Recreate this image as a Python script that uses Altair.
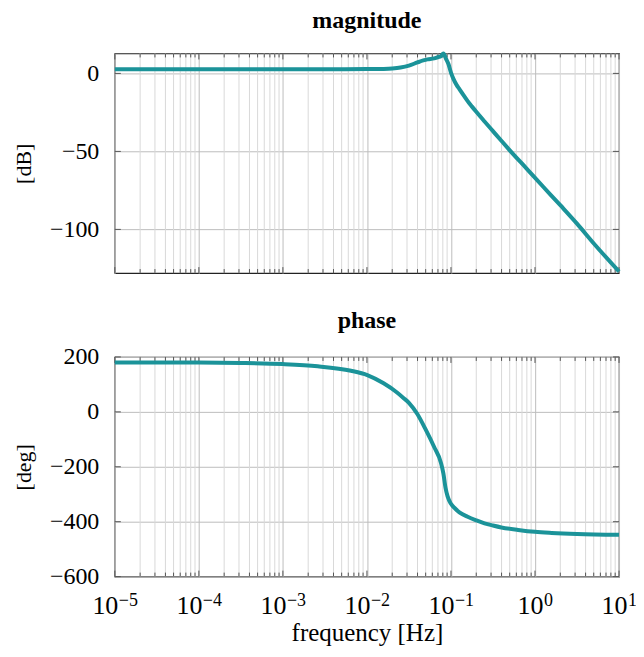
import altair as alt
import pandas as pd

# ---- data ----
mag_freq = [1e-5, 1e-4, 1e-3, 3.16e-3, 0.01, 0.0126, 0.0158, 0.0200, 0.0251, 0.0316,
            0.0398, 0.0468, 0.0525, 0.0631, 0.0708, 0.0759, 0.0813, 0.0871, 0.0933,
            0.1, 0.107, 0.117, 0.126, 0.141, 0.158, 0.178, 0.200, 0.251, 0.316, 0.398,
            0.501, 0.794, 1.26, 2.0, 3.16, 5.01, 10.0]
mag_db = [2.7, 2.7, 2.7, 2.7, 2.75, 2.8, 2.9, 3.2, 3.8, 5.0,
          7.0, 8.3, 9.0, 9.6, 10.5, 11.0, 12.8, 9.5, 6.0,
          0.5, -3.5, -7.5, -10.0, -14.0, -17.8, -21.3, -24.6, -30.8, -37.0, -43.2,
          -49.3, -61.0, -72.8, -84.5, -96.3, -109.0, -127.0]

ph_freq = [1e-5, 1e-4, 3.16e-4, 1e-3, 0.0026, 0.00646, 0.0101, 0.0158, 0.0228, 0.0274,
           0.0316, 0.0398, 0.0501, 0.0631, 0.0759, 0.0813, 0.0861, 0.0912, 0.1, 0.112,
           0.126, 0.158, 0.2, 0.251, 0.316, 0.398, 0.631, 1.0, 1.58, 3.16, 10.0]
ph_deg = [180, 179.5, 178, 174, 166, 149.7, 134, 104, 70.6, 50,
          33, -8, -65, -128, -185, -225, -276, -308, -335, -352,
          -366, -382, -395, -406, -414, -421, -430, -437, -441, -445, -448]

major_ticks = [1e-5, 1e-4, 1e-3, 1e-2, 1e-1, 1.0, 10.0]
x_tick_base = ["10", "10", "10", "10", "10", "10", "10"]
x_tick_exp = ["−5", "−4", "−3", "−2", "−1", "0", "1"]
minor_ticks = [m * d for d in [1e-5, 1e-4, 1e-3, 1e-2, 1e-1, 1.0] for m in [2, 3, 4, 5, 6, 7, 8, 9]]

mag_ticks = [0, -50, -100]
ph_ticks = [200, 0, -200, -400, -600]

# ---- style ----
FONT = "Liberation Serif"
LINE = "#1b9399"
TICK = "#555555"
W, H = 505, 220
BASE_FS, EXP_FS = 26, 18

mag_df = pd.DataFrame({"f": mag_freq, "v": mag_db})
ph_df = pd.DataFrame({"f": ph_freq, "v": ph_deg})
minor_df = pd.DataFrame({"f": minor_ticks})
major_df = pd.DataFrame({"f": major_ticks, "base": x_tick_base, "exp": x_tick_exp})
major_df["long"] = major_df["exp"].str.len() > 1

xscale = alt.Scale(type="log", domain=[1e-5, 10], nice=False)


def xenc(show_title):
    ax = alt.Axis(values=major_ticks, grid=True, labels=False, ticks=False, domain=False,
                  title="frequency [Hz]" if show_title else None,
                  titleFontSize=25, titlePadding=44)
    return alt.X("f:Q", scale=xscale, axis=ax)


def panel(df, ydomain, yticks, ytitle, title, show_labels):
    x = xenc(show_labels)
    yscale = alt.Scale(domain=ydomain, nice=False, zero=False)
    ydf = pd.DataFrame({"v": yticks})
    layers = [
        alt.Chart(minor_df).mark_rule(color="#d9d9d9", strokeWidth=1).encode(x=x),
        # inner tick marks (pgfplots style)
        alt.Chart(minor_df).mark_rule(color=TICK, strokeWidth=1).encode(
            x=x, y=alt.value(0), y2=alt.value(4)),
        alt.Chart(minor_df).mark_rule(color=TICK, strokeWidth=1).encode(
            x=x, y=alt.value(H - 4), y2=alt.value(H)),
        alt.Chart(major_df).mark_rule(color=TICK, strokeWidth=1).encode(
            x=x, y=alt.value(0), y2=alt.value(6)),
        alt.Chart(major_df).mark_rule(color=TICK, strokeWidth=1).encode(
            x=x, y=alt.value(H - 6), y2=alt.value(H)),
        alt.Chart(ydf).mark_rule(color=TICK, strokeWidth=1).encode(
            y=alt.Y("v:Q", scale=yscale), x=alt.value(0), x2=alt.value(6)),
        alt.Chart(ydf).mark_rule(color=TICK, strokeWidth=1).encode(
            y=alt.Y("v:Q", scale=yscale), x=alt.value(W - 6), x2=alt.value(W)),
        alt.Chart(df).mark_line(color=LINE, strokeWidth=4, interpolate="monotone").encode(
            x=x,
            y=alt.Y("v:Q", scale=yscale,
                    axis=alt.Axis(values=yticks, format="d", title=ytitle, grid=True,
                                  ticks=False, domain=False, labelPadding=16, titlePadding=14)),
        ),
    ]
    if show_labels:
        for is_long, shift in [(True, 3.5), (False, 8.5)]:
            sub = alt.Chart(major_df).transform_filter(
                alt.datum.long if is_long else ~alt.datum.long)
            layers.append(sub.mark_text(font=FONT, fontSize=BASE_FS, align="right",
                                        baseline="alphabetic", dx=shift, color="black").encode(
                x=x, y=alt.value(H + 37), text="base:N"))
            layers.append(sub.mark_text(font=FONT, fontSize=EXP_FS, align="left",
                                        baseline="alphabetic", dx=shift + 0.5, color="black").encode(
                x=x, y=alt.value(H + 29), text="exp:N"))
    return alt.layer(*layers).properties(
        width=W, height=H,
        title=alt.TitleParams(title, font=FONT, fontSize=24, fontWeight="bold",
                              anchor="middle", frame="group", offset=12, color="black"),
    )


top = panel(mag_df, [-128, 12.8], mag_ticks, "[dB]", "magnitude", False)
bottom = panel(ph_df, [-600, 200], ph_ticks, "[deg]", "phase", True)

chart = alt.vconcat(top, bottom, spacing=27).properties(
    padding={"left": 3, "top": 0, "right": -2, "bottom": 0}
).configure_view(stroke="#222", strokeWidth=1.2).configure_axis(
    labelFont=FONT, labelFontSize=24, labelColor="black",
    titleFont=FONT, titleFontSize=22, titleFontWeight="normal", titleColor="black",
    gridColor="#bdbdbd", gridWidth=1, gridOpacity=1,
)

chart.save("out.html", embed_options={"renderer": "svg", "actions": False})
